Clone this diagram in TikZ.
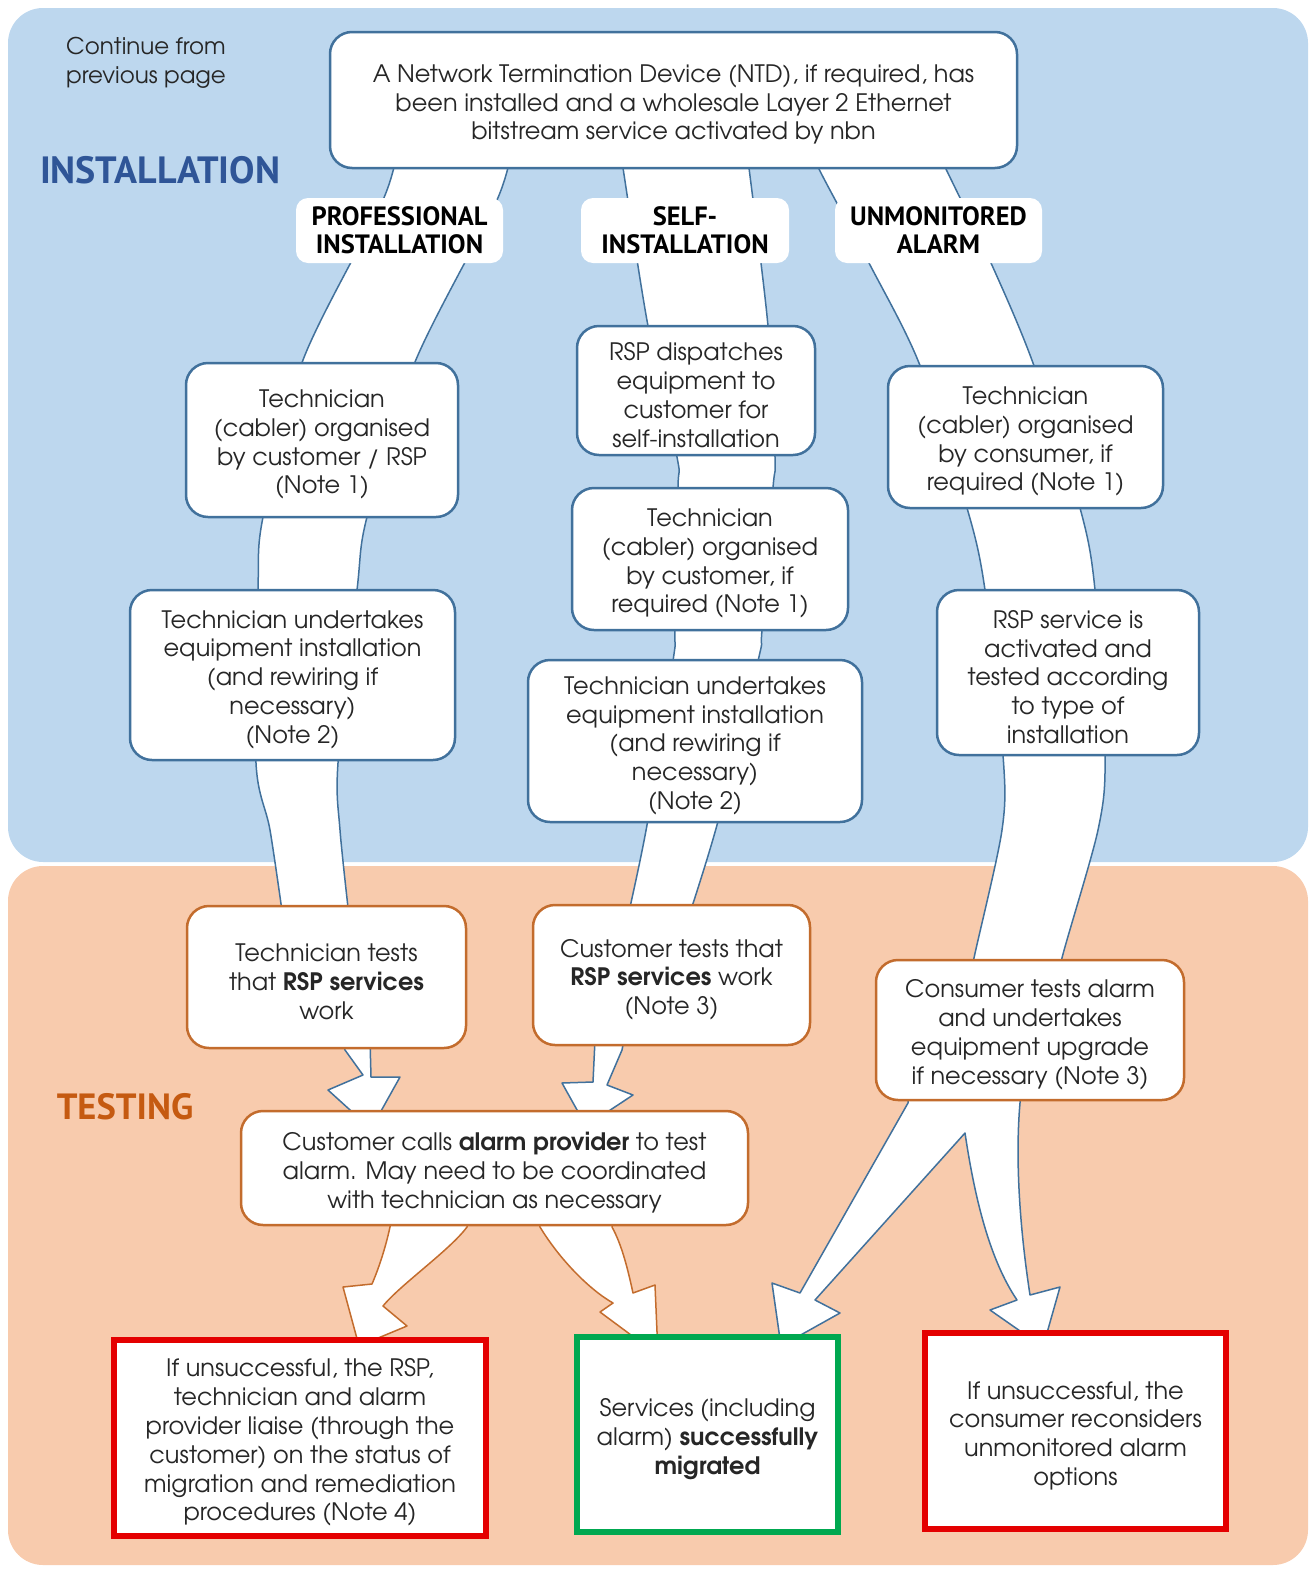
\documentclass[tikz,border=0pt]{standalone}
\usepackage{fontspec}
\setmainfont{texgyreadventor}[Extension=.otf,UprightFont=*-regular,BoldFont=*-bold,ItalicFont=*-italic,BoldItalicFont=*-bolditalic]
\newfontfamily\headfont{PT Sans}
\newcommand{\tstrut}{\rule{0pt}{27pt}}
\definecolor{bgblue}{RGB}{189,215,238}
\definecolor{bgorange}{RGB}{248,203,173}
\definecolor{bordblue}{RGB}{65,113,156}
\definecolor{bordorange}{RGB}{195,108,45}
\definecolor{txtgray}{RGB}{38,38,38}
\definecolor{headblue}{RGB}{47,85,151}
\definecolor{headorange}{RGB}{197,90,17}
\definecolor{failred}{RGB}{228,0,0}
\definecolor{okgreen}{RGB}{0,168,80}
\begin{document}
\begin{tikzpicture}[x=1pt,y=-1pt,
  panel/.style={rounded corners=35pt, inner sep=0pt},
  body/.style={font=\fontsize{24}{28.8}\selectfont, text=txtgray, align=center, inner sep=0pt},
  bluebox/.style={body, draw=bordblue, line width=2.5pt, fill=white, rounded corners=22pt},
  orangebox/.style={body, draw=bordorange, line width=2.5pt, fill=white, rounded corners=22pt},
  endbox/.style={body, fill=white, line width=6pt},
  lbl/.style={fill=white, rounded corners=12pt, inner sep=0pt, align=center, text=black,
    font=\headfont\bfseries\fontsize{26.5}{28}\selectfont},
  heading/.style={font=\headfont\bfseries\fontsize{38}{42}\selectfont, inner sep=0pt},
  arrblue/.style={fill=white, draw=bordblue, line width=1.5pt, line join=round},
  arrorange/.style={fill=white, draw=bordorange, line width=1.5pt, line join=round}
]
\useasboundingbox (0,0) rectangle (1311,1569);
% panels
\node[panel, fill=bgblue, minimum width=1300pt, minimum height=854pt] (instpanel) at (658,435) {};
\node[panel, fill=bgorange, minimum width=1300pt, minimum height=699pt] (testpanel) at (658,1215.5) {};

% headings
\node[heading, text=headblue] (insthead) at (160,170) {INSTALLATION};
\node[heading, text=headorange, font=\headfont\bfseries\fontsize{36.5}{40}\selectfont] (testhead) at (125,1107) {TESTING};
\node[body, font=\fontsize{23}{29}\selectfont] (cont) at (146,63) {Continue from\\previous page};

% big installation arrows
\draw[arrblue] plot[smooth] coordinates {(399,140) (383,200) (303,360) (263,517) (258,590) (256,763) (270,830) (284,925)}
  -- plot[smooth] coordinates {(350,925) (340,830) (338,763) (357,590) (367,517) (415,362) (497,200) (513,140)} -- cycle;
\draw[arrblue] plot[smooth] coordinates {(619,140) (623,168) (648,326) (677,457) (678,488) (675,630) (673,661) (647,825) (626,925)}
  -- plot[smooth] coordinates {(686,925) (717,825) (758,661) (762,630) (773,488) (775,457) (768,326) (749,168) (745,140)} -- cycle;
\draw[arrblue] plot[smooth] coordinates {(810,140) (818,167) (869,263) (919,363) (967,508) (985,590) (1003,755) (1002,830) (974,958) (970,985)}
  -- plot[smooth] coordinates {(1060,985) (1062,958) (1098,830) (1105,755) (1095,590) (1080,508) (1033,363) (991,263) (945,167) (932,140)} -- cycle;

% split arrow below consumer test
\draw[arrblue] (908,1085) -- (908,1103) -- (800,1293) -- (772,1283) -- (781,1346) -- (840,1313) -- (815,1300) -- (965,1133)
  .. controls (975,1200) and (990,1260) .. (1017,1300) -- (990,1310) -- (1043,1347) -- (1060,1287) -- (1030,1295)
  .. controls (1020,1230) and (1015,1160) .. (1020,1103) -- (1020,1085) -- cycle;

% small arrows into the alarm call box
\draw[arrblue] (342,1040) -- (345,1050) -- (363,1075) -- (328,1090) -- (371,1129) -- (400,1077) -- (371,1077) -- (370,1040) -- cycle;
\draw[arrblue] (595,1040) -- (593,1082) -- (562,1083) -- (586,1126) -- (633,1095) -- (607,1085) -- (622,1050) -- (624,1040) -- cycle;

% arrows out of the alarm call box
\draw[arrorange] (392,1215) -- (390,1227) .. controls (385,1250) and (378,1270) .. (372,1284) -- (343,1287) -- (359,1346) -- (407,1326)
  -- (383,1306) .. controls (400,1285) and (450,1250) .. (467,1227) -- (468,1215) -- cycle;
\draw[arrorange] (538,1215) -- (540,1227) .. controls (560,1260) and (590,1290) .. (613,1303) -- (600,1312) -- (658,1355) -- (655,1285)
  -- (633,1293) .. controls (628,1270) and (622,1245) .. (612,1227) -- (612,1215) -- cycle;

% top box
\node[bluebox, minimum width=687pt, minimum height=136pt] (top) at (673.5,100)
  {\tstrut A Network Termination Device (NTD), if required, has\\been installed and a wholesale Layer 2 Ethernet\\bitstream service activated by nbn};

% branch labels
\node[lbl, minimum width=207pt, minimum height=65pt] (lprof) at (399.5,230.5) {PROFESSIONAL\\INSTALLATION};
\node[lbl, minimum width=208pt, minimum height=65pt] (lself) at (685,230.5) {SELF-\\INSTALLATION};
\node[lbl, minimum width=207pt, minimum height=65pt] (lunmon) at (938.5,230.5) {UNMONITORED\\ALARM};

% installation boxes
\node[bluebox, minimum width=272pt, minimum height=154pt] (b1) at (322,440)
  {\tstrut Technician\\(cabler) organised\\by customer / RSP\\(Note 1)};
\node[bluebox, minimum width=325pt, minimum height=170pt] (b2) at (292.5,675)
  {\tstrut Technician undertakes\\equipment installation\\(and rewiring if\\necessary)\\(Note 2)};
\node[bluebox, minimum width=238pt, minimum height=129pt] (m1) at (696,390.5)
  {\tstrut RSP dispatches\\equipment to\\customer for\\self-installation};
\node[bluebox, minimum width=276pt, minimum height=142pt] (m2) at (710,559)
  {\tstrut Technician\\(cabler) organised\\by customer, if\\required (Note 1)};
\node[bluebox, minimum width=334pt, minimum height=162pt] (m3) at (695,741)
  {\tstrut Technician undertakes\\equipment installation\\(and rewiring if\\necessary)\\(Note 2)};
\node[bluebox, minimum width=275pt, minimum height=142pt] (r1) at (1025.5,437)
  {\tstrut Technician\\(cabler) organised\\by consumer, if\\required (Note 1)};
\node[bluebox, minimum width=262pt, minimum height=165pt] (r2) at (1068,672.5)
  {\tstrut RSP service is\\activated and\\tested according\\to type of\\installation};

% testing boxes
\node[orangebox, minimum width=279pt, minimum height=142pt] (t1) at (326.5,977)
  {\tstrut Technician tests\\that \textbf{RSP services}\\work};
\node[orangebox, minimum width=277pt, minimum height=140pt] (t2) at (671.5,975)
  {\tstrut Customer tests that\\\textbf{RSP services} work\\(Note 3)};
\node[orangebox, minimum width=308pt, minimum height=140pt] (t3) at (1030,1030)
  {\tstrut Consumer tests alarm\\and undertakes\\equipment upgrade\\if necessary (Note 3)};
\node[orangebox, minimum width=507pt, minimum height=114pt] (call) at (494.5,1168)
  {\tstrut Customer calls \textbf{alarm provider} to test\\alarm. May need to be coordinated\\with technician as necessary};

% outcome boxes
\node[endbox, draw=failred, minimum width=372pt, minimum height=196pt] (f1) at (300,1438)
  {\tstrut If unsuccessful, the RSP,\\technician and alarm\\provider liaise (through the\\customer) on the status of\\migration and remediation\\procedures (Note 4)};
\node[endbox, draw=okgreen, minimum width=261pt, minimum height=195pt] (f2) at (707.5,1434.5)
  {\tstrut Services (including\\alarm) \textbf{successfully}\\\textbf{migrated}};
\node[endbox, draw=failred, minimum width=301pt, minimum height=196pt] (f3) at (1075.5,1431)
  {\tstrut If unsuccessful, the\\consumer reconsiders\\unmonitored alarm\\options};
\end{tikzpicture}
\end{document}
